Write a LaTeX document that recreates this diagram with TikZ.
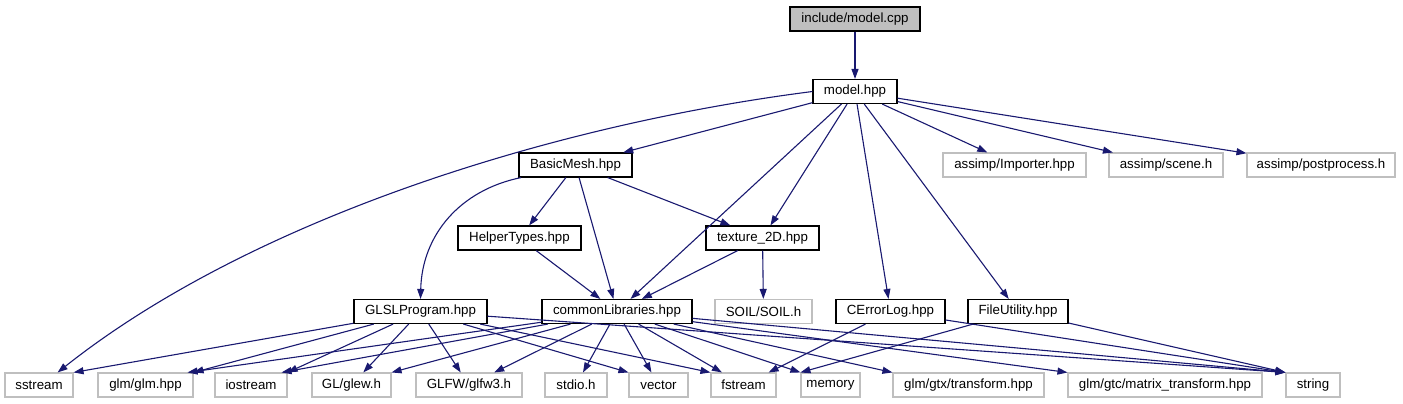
\documentclass[tikz,border=0pt]{standalone}
\usepackage{fontspec}
\setsansfont{Liberation Sans}
\usetikzlibrary{
    arrows.meta,
    positioning
}
\definecolor{edgeblue}{HTML}{191970}
\definecolor{extgray}{HTML}{BFBFBF}
\definecolor{rootgray}{HTML}{BFBFBF}

\begin{document}
\begin{tikzpicture}[
    x=1bp, y=-1bp,
    font=\sffamily\fontsize{13.3bp}{16bp}\selectfont,
    file/.style={
        rectangle,
        draw=black,
        fill=white,
        line width=1.1bp,
        minimum width=#1bp,
        minimum height=24bp,
        inner xsep=2pt
    },
    extfile/.style={
        rectangle,
        draw=extgray,
        fill=white,
        line width=1.1bp,
        minimum width=#1bp,
        minimum height=24bp,
        inner xsep=2pt
    },
    rootfile/.style={
        file=#1,
        fill=rootgray
    },
    dep/.style={
        -{Triangle[length=10bp,width=7bp]},
        line width=1.1bp,
        draw=edgeblue
    }
]

\useasboundingbox (0,0) rectangle (1403,403);

% =====================================================
% Upper rows
% =====================================================

\node[rootfile=130] (cpp) at (855,19) {include/model.cpp};
\node[file=84] (model) at (855,91.5) {model.hpp};

\node[file=113] (basic) at (575.5,165) {BasicMesh.hpp};
\node[extfile=143] (importer) at (1014.5,165) {assimp/Importer.hpp};
\node[extfile=114] (scene) at (1166,165) {assimp/scene.h};
\node[extfile=148] (postproc) at (1321,165) {assimp/postprocess.h};

\node[file=123] (helper) at (519.5,238) {HelperTypes.hpp};
\node[file=113] (texture) at (762.5,238) {texture\_2D.hpp};

\node[file=133] (glsl) at (420.5,311.5) {GLSLProgram.hpp};
\node[file=150] (common) at (617,311.5) {commonLibraries.hpp};
\node[extfile=97] (soil) at (763.5,311.5) {SOIL/SOIL.h};
\node[file=109] (errlog) at (890.5,311.5) {CErrorLog.hpp};
\node[file=100] (fileutil) at (1018,311.5) {FileUtility.hpp};

% =====================================================
% Bottom row
% =====================================================

\node[extfile=68] (sstream) at (39,385) {sstream};
\node[extfile=95] (glm) at (145.5,385) {glm/glm.hpp};
\node[extfile=72] (iostream) at (251,385) {iostream};
\node[extfile=79] (glew) at (351.5,385) {GL/glew.h};
\node[extfile=106] (glfw) at (469,385) {GLFW/glfw3.h};
\node[extfile=62] (stdio) at (576,385) {stdio.h};
\node[extfile=59] (vector) at (658.5,385) {vector};
\node[extfile=65] (fstream) at (743.5,385) {fstream};
\node[extfile=59] (memory) at (830.5,385) {memory};
\node[extfile=151] (gtx) at (968.5,385) {glm/gtx/transform.hpp};
\node[extfile=194] (gtc) at (1165,385) {glm/gtc/matrix\_transform.hpp};
\node[extfile=54] (string) at (1313,385) {string};

% =====================================================
% Includes of model
% =====================================================

\draw[dep] (cpp) -- (model);
\draw[dep] (model.west) .. controls (550,125) and (250,220) .. (sstream.34);
\draw[dep] (model) -- (basic);
\draw[dep] (model) -- (common);
\draw[dep] (model) -- (texture);
\draw[dep] (model) -- (errlog);
\draw[dep] (model) -- (fileutil);
\draw[dep] (model) -- (importer);
\draw[dep] (model) -- (scene);
\draw[dep] (model) -- (postproc);

% =====================================================
% Middle includes
% =====================================================

\draw[dep] (basic.193) .. controls (460,190) and (422,235) .. (glsl.north);
\draw[dep] (basic) -- (helper);
\draw[dep] (basic) -- (common);
\draw[dep] (basic) -- (texture);
\draw[dep] (helper) -- (common);
\draw[dep] (texture) -- (common);
\draw[dep] (texture) -- (soil);

% =====================================================
% System headers
% =====================================================

\draw[dep] (glsl) -- (sstream.north east);
\draw[dep] (glsl) -- (glm.north east);
\draw[dep] (glsl) -- (iostream.north east);
\draw[dep] (glsl) -- (glew);
\draw[dep] (glsl) -- (glfw);
\draw[dep] (glsl) -- (vector.north west);
\draw[dep] (glsl) -- (fstream.north west);
\draw[dep] (glsl) -- (string.north west);

\draw[dep] (common) -- ([xshift=-6bp]glm.north east);
\draw[dep] (common) -- ([xshift=-6bp]iostream.north east);
\draw[dep] (common) -- (glew.north east);
\draw[dep] (common) -- (glfw);
\draw[dep] (common) -- (stdio);
\draw[dep] (common) -- (vector);
\draw[dep] (common) -- (fstream);
\draw[dep] (common) -- (memory.north west);
\draw[dep] (common) -- (gtx.north west);
\draw[dep] (common) -- (gtc.north west);
\draw[dep] (common) -- (string.north west);

\draw[dep] (errlog) -- (fstream);
\draw[dep] (errlog) -- (string.north west);
\draw[dep] (fileutil) -- (memory.north west);
\draw[dep] (fileutil) -- (string.north west);

\end{tikzpicture}
\end{document}
